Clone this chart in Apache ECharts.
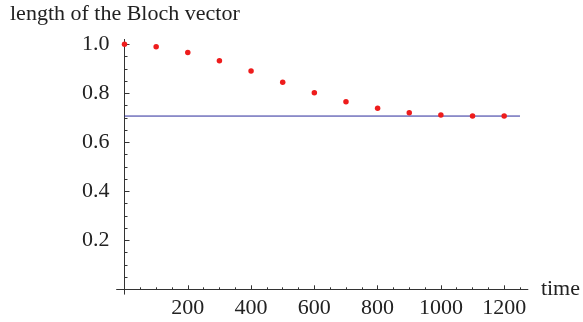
<!DOCTYPE html>
<html>
<head>
<meta charset="utf-8">
<script src="https://cdn.jsdelivr.net/npm/echarts@6/dist/echarts.min.js"></script>
<style>
  html, body { margin: 0; padding: 0; background: #fff; }
  #main { width: 583px; height: 322px; }
</style>
</head>
<body>
<div id="main"></div>
<script>
// sample times and measured Bloch vector length
const times = [0, 100, 200, 300, 400, 500, 600, 700, 800, 900, 1000, 1100, 1200];
const lengths = [1.0, 0.990, 0.967, 0.933, 0.891, 0.845, 0.802, 0.766, 0.739, 0.721, 0.711, 0.707, 0.707];
// asymptote 1/sqrt(2)
const limitX = [0, 1250];
const limitY = [0.7071, 0.7071];
// ticks
const xMajor = [200, 400, 600, 800, 1000, 1200];
const xMinor = [50, 100, 150, 250, 300, 350, 450, 500, 550, 650, 700, 750, 850, 900, 950, 1050, 1100, 1150, 1250];
const yMajor = [0.2, 0.4, 0.6, 0.8, 1.0];
const yMinor = [0.05, 0.1, 0.15, 0.25, 0.3, 0.35, 0.45, 0.5, 0.55, 0.65, 0.7, 0.75, 0.85, 0.9, 0.95];

const font = 'Liberation Serif';
const axisColor = '#333';

const chart = echarts.init(document.getElementById('main'), null, { renderer: 'canvas' });

const baseX = {
  type: 'value', min: -25, max: 1275, position: 'bottom',
  splitLine: { show: false },
  axisLine: { onZero: true, lineStyle: { color: axisColor, width: 1 } }
};
const baseY = {
  type: 'value', min: -0.02, max: 1.02, position: 'left',
  splitLine: { show: false },
  axisLine: { onZero: true, lineStyle: { color: axisColor, width: 1 } }
};

chart.setOption({
  animation: false,
  title: {
    text: 'length of the Bloch vector',
    left: 5, top: -2,
    textStyle: { fontFamily: font, fontSize: 22, fontWeight: 'normal', color: '#222' }
  },
  grid: { left: 116.6, right: 54.3, top: 39.4, bottom: 27.8, containLabel: false },
  xAxis: [
    Object.assign({}, baseX, {
      name: 'time', nameLocation: 'end', nameGap: 13,
      nameTextStyle: { fontFamily: font, fontSize: 22, color: '#222', verticalAlign: 'middle' },
      axisTick: { inside: true, length: 4, customValues: xMajor, lineStyle: { color: axisColor } },
      axisLabel: {
        customValues: xMajor, fontFamily: font, fontSize: 22, color: '#222', margin: 3,
        formatter: v => String(v)
      }
    }),
    Object.assign({}, baseX, {
      axisLine: { show: false, onZero: true },
      axisTick: { inside: true, length: 2, customValues: xMinor, lineStyle: { color: axisColor } },
      axisLabel: { show: false }
    })
  ],
  yAxis: [
    Object.assign({}, baseY, {
      axisTick: { inside: true, length: 5, customValues: yMajor, lineStyle: { color: axisColor } },
      axisLabel: {
        customValues: yMajor, fontFamily: font, fontSize: 22, color: '#222', margin: 7,
        formatter: v => v.toFixed(1)
      }
    }),
    Object.assign({}, baseY, {
      axisLine: { show: false, onZero: true },
      axisTick: { inside: true, length: 3, customValues: yMinor, lineStyle: { color: axisColor } },
      axisLabel: { show: false }
    })
  ],
  series: [
    {
      type: 'line', xAxisIndex: 0, yAxisIndex: 0,
      data: limitX.map((x, i) => [x, limitY[i]]),
      showSymbol: false, symbol: 'none',
      lineStyle: { color: '#2a2a9c', width: 1, opacity: 1 },
      z: 2
    },
    {
      type: 'scatter', xAxisIndex: 0, yAxisIndex: 0,
      data: times.map((t, i) => [t, lengths[i]]),
      symbol: 'circle', symbolSize: 5.5,
      itemStyle: { color: '#ee1c1c', opacity: 1 },
      z: 3
    }
  ]
});
</script>
</body>
</html>
